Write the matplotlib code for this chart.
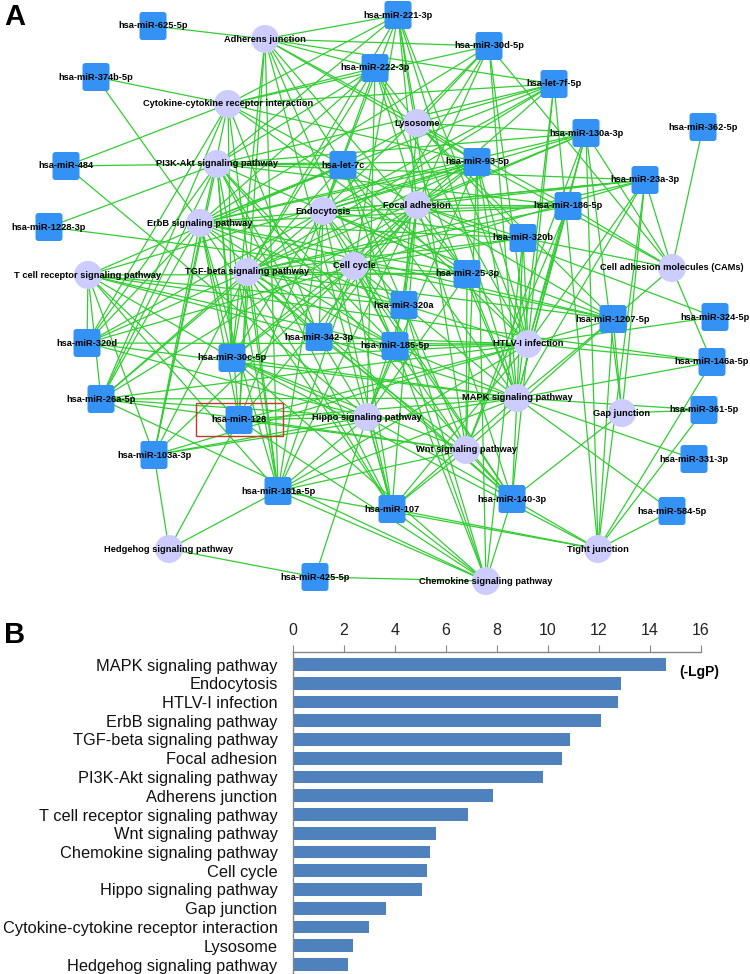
import matplotlib
matplotlib.use("Agg")
import matplotlib.pyplot as plt
from matplotlib.patches import Circle, FancyBboxPatch, Rectangle

# ---- panel B data ----
pathways = ["MAPK signaling pathway", "Endocytosis", "HTLV-I infection",
            "ErbB signaling pathway", "TGF-beta signaling pathway", "Focal adhesion",
            "PI3K-Akt signaling pathway", "Adherens junction",
            "T cell receptor signaling pathway", "Wnt signaling pathway",
            "Chemokine signaling pathway", "Cell cycle", "Hippo signaling pathway",
            "Gap junction", "Cytokine-cytokine receptor interaction", "Lysosome",
            "Hedgehog signaling pathway"]
lgp = [14.62, 12.86, 12.73, 12.06, 10.85, 10.53, 9.79, 7.86, 6.86, 5.61,
       5.38, 5.25, 5.04, 3.64, 2.99, 2.35, 2.16]
xticks = [0, 2, 4, 6, 8, 10, 12, 14, 16]

# ---- panel A data ----
path_names = {
    "AJ": "Adherens junction", "CY": "Cytokine-cytokine receptor interaction",
    "PI": "PI3K-Akt signaling pathway", "LY": "Lysosome", "EN": "Endocytosis",
    "FA": "Focal adhesion", "EB": "ErbB signaling pathway",
    "TC": "T cell receptor signaling pathway", "TG": "TGF-beta signaling pathway",
    "CC": "Cell cycle", "CAM": "Cell adhesion molecules (CAMs)",
    "HT": "HTLV-I infection", "MA": "MAPK signaling pathway",
    "HI": "Hippo signaling pathway", "GJ": "Gap junction",
    "WN": "Wnt signaling pathway", "HH": "Hedgehog signaling pathway",
    "TJ": "Tight junction", "CH": "Chemokine signaling pathway",
}
mirna_links = {
    "hsa-miR-625-5p": ["AJ"],
    "hsa-miR-374b-5p": ["CY", "EB"],
    "hsa-miR-484": ["CY", "PI", "HI"],
    "hsa-miR-1228-3p": ["PI", "CC"],
    "hsa-miR-221-3p": ["AJ", "CY", "LY", "EN", "FA", "PI", "TG", "HT", "MA", "CC", "WN"],
    "hsa-miR-222-3p": ["AJ", "CY", "PI", "LY", "EN", "FA", "EB", "TG", "HT", "MA", "HI"],
    "hsa-miR-30d-5p": ["AJ", "LY", "CY", "EN", "FA", "EB", "MA", "HT", "CC", "CAM"],
    "hsa-let-7f-5p": ["AJ", "CY", "LY", "PI", "EN", "FA", "EB", "TG", "HT", "MA", "TJ"],
    "hsa-let-7c": ["AJ", "CY", "PI", "LY", "EN", "FA", "EB", "TG", "TC", "HT", "MA", "WN", "CH"],
    "hsa-miR-130a-3p": ["LY", "PI", "EN", "FA", "EB", "TG", "HT", "MA", "GJ", "WN", "CAM", "TJ"],
    "hsa-miR-362-5p": ["CAM"],
    "hsa-miR-93-5p": ["AJ", "CY", "PI", "LY", "EN", "FA", "EB", "TG", "TC", "CC", "HT", "MA",
                      "HI", "WN", "CH", "CAM"],
    "hsa-miR-23a-3p": ["PI", "EN", "FA", "EB", "TG", "MA", "HT", "GJ", "CAM", "TJ", "CC"],
    "hsa-miR-186-5p": ["AJ", "PI", "EN", "FA", "EB", "TG", "MA", "HT", "CAM", "WN"],
    "hsa-miR-320b": ["LY", "EN", "FA", "EB", "TG", "CC", "HT", "MA", "CH", "CAM"],
    "hsa-miR-25-3p": ["AJ", "CY", "PI", "EN", "FA", "EB", "TG", "TC", "CC", "HT", "MA", "HI", "WN"],
    "hsa-miR-320a": ["LY", "EN", "FA", "EB", "TG", "TC", "CC", "HT", "MA", "CH", "HI"],
    "hsa-miR-342-3p": ["CY", "PI", "EN", "FA", "TC", "TG", "CC", "MA", "HT", "WN", "HI"],
    "hsa-miR-320d": ["TC", "CY", "PI", "EB", "TG", "EN", "HT", "MA", "HI", "CC"],
    "hsa-miR-30c-5p": ["AJ", "CY", "PI", "EN", "FA", "EB", "TC", "TG", "CC", "HT", "MA", "HI",
                       "WN", "CH", "TJ"],
    "hsa-miR-185-5p": ["AJ", "PI", "EN", "FA", "EB", "TG", "TC", "CC", "HT", "MA", "HI", "WN", "CH"],
    "hsa-miR-1207-5p": ["LY", "EN", "FA", "EB", "TG", "CC", "HT", "MA", "GJ", "CAM", "TJ", "WN"],
    "hsa-miR-324-5p": ["HT", "FA"],
    "hsa-miR-146a-5p": ["TC", "MA", "HT", "CAM", "TJ"],
    "hsa-miR-26a-5p": ["PI", "EB", "TG", "EN", "FA", "TC", "HT", "MA", "HI", "WN", "CH", "CY"],
    "hsa-miR-128": ["AJ", "PI", "EN", "FA", "EB", "TG", "TC", "HT", "MA", "HI", "WN", "CH", "HH"],
    "hsa-miR-103a-3p": ["CY", "PI", "EB", "TG", "FA", "HT", "MA", "HI", "HH", "TC"],
    "hsa-miR-181a-5p": ["AJ", "CY", "PI", "EN", "FA", "EB", "TC", "TG", "CC", "HT", "MA", "HI",
                        "WN", "CH", "HH", "TJ"],
    "hsa-miR-107": ["AJ", "PI", "EN", "FA", "EB", "TG", "CC", "HT", "MA", "HI", "WN", "CH", "TJ"],
    "hsa-miR-140-3p": ["PI", "EN", "FA", "EB", "TG", "CC", "HT", "MA", "HI", "WN", "CH", "TJ", "GJ"],
    "hsa-miR-361-5p": ["GJ", "TJ", "MA"],
    "hsa-miR-331-3p": ["MA"],
    "hsa-miR-584-5p": ["TJ", "MA"],
    "hsa-miR-425-5p": ["HH", "CH", "HI"],
}

# layout of the network (pixel coords of the figure)
layout = {
    "AJ": (265, 39), "CY": (228, 104), "PI": (217, 164), "LY": (417, 123),
    "EN": (323, 211), "FA": (417, 205), "EB": (200, 223), "TC": (88, 275),
    "TG": (247, 272), "CC": (354, 266), "CAM": (672, 268), "HT": (528, 344),
    "MA": (517, 398), "HI": (367, 417), "GJ": (622, 413), "WN": (466, 450),
    "HH": (169, 549), "TJ": (598, 549), "CH": (486, 581),
    "hsa-miR-625-5p": (153, 26), "hsa-miR-374b-5p": (96, 77), "hsa-miR-484": (66, 166),
    "hsa-miR-1228-3p": (49, 227), "hsa-miR-221-3p": (398, 15), "hsa-miR-222-3p": (375, 68),
    "hsa-miR-30d-5p": (489, 46), "hsa-let-7f-5p": (554, 84), "hsa-let-7c": (343, 165),
    "hsa-miR-130a-3p": (586, 133), "hsa-miR-362-5p": (703, 127), "hsa-miR-93-5p": (477, 162),
    "hsa-miR-23a-3p": (645, 180), "hsa-miR-186-5p": (568, 206), "hsa-miR-320b": (523, 238),
    "hsa-miR-25-3p": (467, 274), "hsa-miR-320a": (404, 305), "hsa-miR-342-3p": (319, 337),
    "hsa-miR-320d": (87, 343), "hsa-miR-30c-5p": (232, 358), "hsa-miR-185-5p": (395, 346),
    "hsa-miR-1207-5p": (613, 319), "hsa-miR-324-5p": (715, 317), "hsa-miR-146a-5p": (712, 362),
    "hsa-miR-26a-5p": (101, 399), "hsa-miR-128": (239, 420), "hsa-miR-103a-3p": (154, 455),
    "hsa-miR-181a-5p": (278, 491), "hsa-miR-107": (392, 509), "hsa-miR-140-3p": (512, 499),
    "hsa-miR-361-5p": (704, 410), "hsa-miR-331-3p": (694, 459), "hsa-miR-584-5p": (672, 511),
    "hsa-miR-425-5p": (315, 577),
}

W, H = 750, 974
fig = plt.figure(figsize=(W / 100, H / 100), dpi=100)

# ---------------- panel A: network ----------------
NET_H = 610
axn = fig.add_axes([0, (H - NET_H) / H, 1, NET_H / H])
axn.set_xlim(0, W)
axn.set_ylim(NET_H, 0)
axn.axis("off")

edge_col = "#33cc33"
for mir, targets in mirna_links.items():
    x0, y0 = layout[mir]
    for t in targets:
        x1, y1 = layout[t]
        axn.plot([x0, x1], [y0, y1], color=edge_col, lw=0.9, zorder=1)

for key, name in path_names.items():
    x, y = layout[key]
    axn.add_patch(Circle((x, y), 14, facecolor="#ccccff", edgecolor="none", zorder=2))
    axn.text(x, y, name, ha="center", va="center", fontsize=6.7, fontweight="bold",
             family="Liberation Sans", zorder=4)

for mir in mirna_links:
    x, y = layout[mir]
    axn.add_patch(FancyBboxPatch((x - 13.5, y - 14), 27, 28,
                                 boxstyle="round,pad=0,rounding_size=3",
                                 facecolor="#3392f3", edgecolor="none", zorder=3))
    axn.text(x, y, mir, ha="center", va="center", fontsize=6.7, fontweight="bold",
             family="Liberation Sans", zorder=4)

# highlight box around hsa-miR-128
axn.add_patch(Rectangle((196, 403), 87, 33, fill=False, edgecolor="#c0392b", lw=1.0, zorder=5))

fig.text(4 / W, 1 - 17 / H, "A", fontsize=21, fontweight="bold", family="Liberation Sans",
         va="center", ha="left")

# ---------------- panel B: bar chart ----------------
x_left, x_right = 293, 701
y_top = 652
pitch = 18.75
first_center = 664.5
axb = fig.add_axes([x_left / W, 0, (x_right - x_left) / W, (H - y_top) / H])
ypos = list(range(len(pathways)))
axb.barh(ypos, lgp, height=0.68, color="#4f81bd", zorder=2)
axb.set_xlim(0, 16)
axb.set_ylim((H - first_center) / pitch, -(first_center - y_top) / pitch)
axb.xaxis.tick_top()
axb.set_xticks(xticks)
axb.set_xticklabels([str(v) for v in xticks], fontsize=11.5, family="Liberation Sans",
                    color="#222222")
axb.tick_params(axis="x", direction="out", length=5, color="#868686", pad=5)
axb.set_yticks(ypos)
axb.set_yticklabels(pathways, fontsize=11.8, family="Liberation Sans", color="#111111")
axb.tick_params(axis="y", length=0, pad=11)
for s in ["right", "bottom"]:
    axb.spines[s].set_visible(False)
for s in ["top", "left"]:
    axb.spines[s].set_color("#868686")
    axb.spines[s].set_linewidth(1.0)
axb.set_facecolor("none")

fig.text(699 / W, 1 - 672 / H, "(-LgP)", fontsize=10, fontweight="bold",
         family="Liberation Sans", ha="center", va="center")
fig.text(4 / W, 1 - 635 / H, "B", fontsize=21, fontweight="bold", family="Liberation Sans",
         va="center", ha="left")

fig.savefig("out.png", dpi=100)
